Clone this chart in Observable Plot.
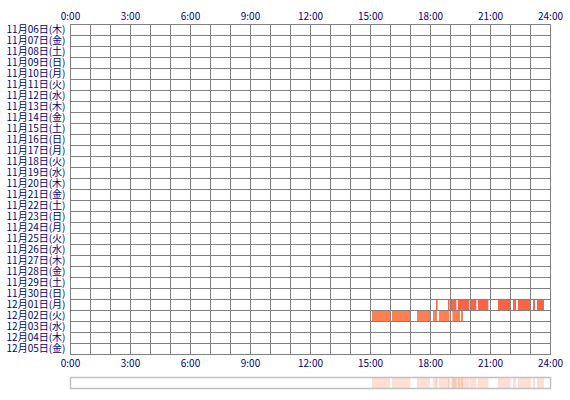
<!DOCTYPE html>
<html>
<head>
<meta charset="utf-8">
<script src="https://cdn.jsdelivr.net/npm/d3@7"></script>
<script src="https://cdn.jsdelivr.net/npm/@observablehq/plot@0.6"></script>
<style>
  body { margin: 0; background: #fff; }
  #chart svg { display: block; }
</style>
</head>
<body>
<div id="chart"></div>
<script>
// Row labels (dates)
const days = [
  "11月06日(木)","11月07日(金)","11月08日(土)","11月09日(日)","11月10日(月)",
  "11月11日(火)","11月12日(水)","11月13日(木)","11月14日(金)","11月15日(土)",
  "11月16日(日)","11月17日(月)","11月18日(火)","11月19日(水)","11月20日(木)",
  "11月21日(金)","11月22日(土)","11月23日(日)","11月24日(月)","11月25日(火)",
  "11月26日(水)","11月27日(木)","11月28日(金)","11月29日(土)","11月30日(日)",
  "12月01日(月)","12月02日(火)","12月03日(水)","12月04日(木)","12月05日(金)"
];
// Hour ticks
const hourTicks = [0, 3, 6, 9, 12, 15, 18, 21, 24];
const hourLines = [0,1,2,3,4,5,6,7,8,9,10,11,12,13,14,15,16,17,18,19,20,21,22,23,24];

// Activity segments (hours)
const segDay = [
  "12月01日(月)","12月01日(月)","12月01日(月)","12月01日(月)","12月01日(月)","12月01日(月)",
  "12月01日(月)","12月01日(月)","12月01日(月)","12月01日(月)","12月01日(月)",
  "12月02日(火)","12月02日(火)","12月02日(火)","12月02日(火)","12月02日(火)","12月02日(火)","12月02日(火)"
];
const segStart = [18.30, 18.90, 19.05, 19.40, 20.00, 20.40, 21.40, 22.15, 22.40, 23.15, 23.35,
                  15.10, 16.10, 17.35, 18.15, 18.45, 19.12, 19.55];
const segEnd   = [18.38, 18.98, 19.32, 19.97, 20.32, 20.92, 22.03, 22.30, 23.05, 23.25, 23.70,
                  16.00, 17.02, 18.00, 18.35, 18.97, 19.50, 19.65];
const segColor = ["#ff6347","#ff6347","#ff6347","#ff6347","#ff6347","#ff6347",
                  "#ff6347","#ff6347","#ff6347","#ff6347","#ff6347",
                  "#ff7f50","#ff7f50","#ff7f50","#ff7f50","#ff7f50","#ff7f50","#ff7f50"];

const segs = segDay.map((d, i) => ({day: d, start: segStart[i], end: segEnd[i], color: segColor[i]}));

const navy = "#000080";
const grid = "#808080";
const fontFamily = "'Noto Sans CJK JP', 'DejaVu Sans', sans-serif";

const main = Plot.plot({
  width: 570,
  height: 374,
  marginLeft: 70,
  marginRight: 20,
  marginTop: 24,
  marginBottom: 20,
  style: {fontFamily, fontSize: "10px", color: navy, background: "#fff"},
  x: {domain: [0, 24], axis: null},
  y: {domain: days, padding: 0, axis: null},
  marks: [
    Plot.rect(segs, {x1: "start", x2: "end", y: "day", fill: "color"}),
    Plot.ruleX(hourLines, {stroke: grid, strokeWidth: 1}),
    Plot.ruleY(days, {y: d => d, dy: -5.5, stroke: grid, strokeWidth: 1}),
    Plot.frame({stroke: grid, strokeWidth: 1}),
    Plot.axisX(hourTicks, {anchor: "top", tickSize: 0, tickPadding: 5, tickFormat: d => d + ":00", fill: navy, label: null}),
    Plot.axisX(hourTicks, {anchor: "bottom", tickSize: 0, tickPadding: 5, tickFormat: d => d + ":00", fill: navy, label: null}),
    Plot.axisY({anchor: "left", tickSize: 0, tickPadding: 5, fill: navy, label: null})
  ]
});

const strip = Plot.plot({
  width: 570,
  height: 26,
  marginLeft: 70,
  marginRight: 20,
  marginTop: 3,
  marginBottom: 12,
  style: {background: "#fff"},
  x: {domain: [0, 24], axis: null},
  y: {domain: [0, 1], axis: null},
  marks: [
    Plot.rect(segs, {x1: "start", x2: "end", y1: 0, y2: 1, fill: "#ff7f50", fillOpacity: 0.25}),
    Plot.frame({stroke: "#c0c0c0", strokeWidth: 1.5})
  ]
});

document.getElementById("chart").append(main, strip);
</script>
</body>
</html>
